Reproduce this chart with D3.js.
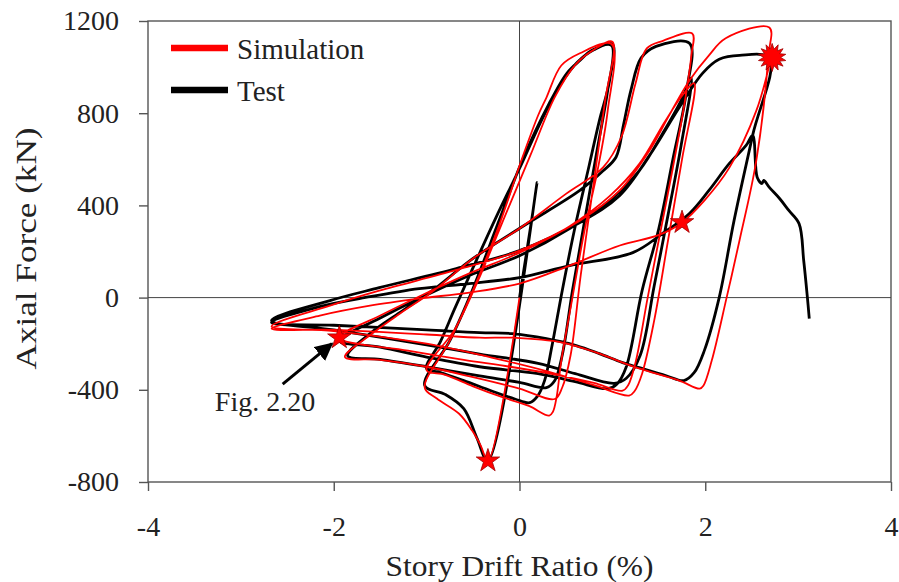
<!DOCTYPE html>
<html>
<head>
<meta charset="utf-8">
<script src="https://cdn.jsdelivr.net/npm/d3@7"></script>
<style>
  body { margin: 0; background: #fff; }
  svg text { font-family: "Times New Roman", "Liberation Serif", Times, serif; fill: #222; }
</style>
</head>
<body>
<div id="chart"></div>
<script>
// axis ticks
const xTicks = [-4, -2, 0, 2, 4];
const yTicks = [-800, -400, 0, 400, 800, 1200];

// test curve, [drift %, axial force kN]
const testCurve = [
  [0, 0], [0.19, 500], [-0.34, -708],
  [-0.46, -608], [-0.60, -482], [-0.80, -420], [-1.02, -382],
  [-0.75, -187], [-0.51, 30], [-0.22, 334], [0.03, 595], [0.32, 842], [0.51, 973], [0.65, 1029], [0.78, 1073], [0.99, 1094],
  [0.97, 942], [0.86, 768], [0.75, 573], [0.59, 291], [0.46, 30], [0.35, -209], [0.27, -360], [0.19, -430], [0.11, -456],
  [-0.05, -440], [-0.3, -405], [-0.6, -360], [-0.85, -325], [-1.0, -308],
  [-0.85, -190], [-0.7, -50], [-0.5, 130], [-0.25, 350], [0.0, 560], [0.25, 780], [0.45, 930], [0.62, 1020], [0.8, 1075], [1.0, 1100],
  [0.95, 900], [0.84, 650], [0.70, 330], [0.57, 30], [0.46, -250], [0.38, -360], [0.29, -391],
  [0.0, -368], [-0.43, -340], [-1.0, -300], [-1.5, -268], [-1.85, -252],
  [-1.61, -156], [-1.29, -65], [-0.94, 30], [-0.5, 170], [0.05, 313], [0.65, 465], [0.9, 550], [1.04, 610], [1.12, 750], [1.2, 900], [1.31, 1040], [1.47, 1090], [1.83, 1103],
  [1.8, 900], [1.65, 597], [1.5, 300], [1.32, 30], [1.15, -300], [1.05, -375], [0.95, -395],
  [0.6, -365], [0.2, -330], [-0.43, -300], [-1.0, -258], [-1.5, -215], [-1.94, -187],
  [-1.51, -91], [-1.08, -4], [-0.54, 96], [0, 182], [0.54, 300], [0.97, 421], [1.29, 551], [1.56, 725], [1.74, 855], [1.85, 951],
  [1.74, 660], [1.6, 360], [1.45, 50], [1.3, -250], [1.15, -350], [1.02, -372],
  [0.6, -330], [0.2, -285], [-0.43, -245], [-1.0, -205], [-2.0, -140], [-2.67, -100],
  [-2.04, -13], [-1.51, 43], [-0.68, 126], [0, 204], [0.65, 326], [1.08, 443], [1.40, 617], [1.72, 825], [1.97, 973], [2.15, 1034], [2.37, 1051], [2.69, 1038],
  [2.51, 704], [2.31, 334], [2.15, 0], [1.99, -230], [1.88, -326], [1.77, -360],
  [1.58, -339], [1.29, -304], [1.11, -282], [0.86, -243], [0.61, -208], [0.29, -178], [-0.08, -156], [-0.43, -152], [-1.0, -140], [-2.0, -120], [-2.67, -108],
  [-2.15, -39], [-1.61, 4], [-1.08, 39], [-0.54, 61], [0, 87], [0.54, 139], [1.22, 195], [1.54, 278], [1.83, 365], [2.04, 465], [2.26, 582], [2.44, 660], [2.51, 704],
  [2.56, 521], [2.61, 495], [2.63, 508], [2.69, 478], [2.80, 430], [2.90, 378], [3.01, 321], [3.06, 161], [3.10, 0], [3.12, -91]
];

// simulation curve
const simCurve = [
  [0, 0], [-0.34, -708],
  [-0.42, -640], [-0.51, -577], [-0.65, -504], [-0.89, -438], [-1.02, -391],
  [-0.75, -187], [-0.48, 52], [-0.22, 313], [0.02, 595], [0.2, 790], [0.29, 868], [0.45, 1007], [0.65, 1060], [0.99, 1100],
  [0.95, 812], [0.84, 551], [0.70, 291], [0.57, 0], [0.45, -274], [0.40, -430], [0.36, -495], [0.32, -512],
  [0.1, -470], [-0.2, -430], [-0.5, -385], [-0.8, -335], [-1.0, -315],
  [-0.7, -140], [-0.45, 70], [-0.15, 360], [0.12, 620], [0.38, 870], [0.6, 1010], [0.8, 1075], [1.0, 1110],
  [0.92, 850], [0.8, 500], [0.66, 100], [0.55, -250], [0.46, -390], [0.38, -440],
  [0, -395], [-0.5, -345], [-1.0, -300], [-1.5, -270], [-1.88, -258],
  [-1.6, -160], [-1.29, -70], [-0.94, 25], [-0.5, 170], [0, 300], [0.5, 450], [0.9, 565], [1.1, 700], [1.25, 930], [1.37, 1081], [1.55, 1115], [1.86, 1146],
  [1.85, 1050], [1.78, 850], [1.65, 560], [1.5, 250], [1.38, 0], [1.25, -280], [1.17, -380], [1.11, -404],
  [0.8, -370], [0.4, -335], [-0.1, -300], [-0.6, -270], [-1.2, -230], [-1.94, -174],
  [-1.51, -80], [-1.08, 5], [-0.54, 105], [0, 195], [0.54, 310], [0.97, 440], [1.29, 580], [1.56, 760], [1.74, 870], [1.88, 930],
  [1.75, 600], [1.6, 250], [1.45, -100], [1.32, -330], [1.24, -405], [1.18, -425],
  [0.8, -380], [0.3, -320], [-0.3, -260], [-1.0, -200], [-2.0, -145], [-2.67, -125],
  [-2.04, -35], [-1.51, 30], [-0.68, 120], [0, 204], [0.65, 334], [1.08, 465], [1.4, 638], [1.61, 790], [1.83, 942], [2.04, 1051], [2.22, 1125], [2.69, 1172],
  [2.68, 1050], [2.55, 595], [2.37, 250], [2.23, 0], [2.07, -273], [1.98, -382], [1.94, -395],
  [1.72, -360], [1.26, -304], [0.83, -239], [0.46, -195], [-0.08, -174], [-0.43, -174], [-1.0, -160], [-2.0, -140], [-2.67, -135],
  [-2.15, -78], [-1.61, -35], [-1.08, -4], [-0.54, 22], [0, 61], [0.54, 139], [1.08, 226], [1.51, 273], [1.75, 326], [1.99, 421], [2.26, 564], [2.55, 811], [2.71, 1042]
];

// marked points on the simulation
const starPoints = [[-0.34, -708], [-1.94, -174], [1.75, 326]];
const burstPoint = [2.72, 1042];

// annotation
const noteText = 'Fig. 2.20';
const noteAnchor = [-2.74, -491];
const arrowTail = [-2.55, -375];
const arrowTip = [-2.02, -200];

const legendItems = [
  { name: 'Simulation', color: '#ff0000' },
  { name: 'Test', color: '#000000' }
];

const width = 899, height = 582;
const serif = '"Times New Roman", "Liberation Serif", Times, serif';

const svg = d3.select('#chart').append('svg')
  .attr('width', width)
  .attr('height', height);

const x = d3.scaleLinear().domain([-4, 4]).range([148, 891]);
const y = d3.scaleLinear().domain([-800, 1200]).range([482, 21]);

// frame
svg.append('rect')
  .attr('x', x(-4)).attr('y', y(1200))
  .attr('width', x(4) - x(-4)).attr('height', y(-800) - y(1200))
  .attr('fill', 'none').attr('stroke', '#555').attr('stroke-width', 1.4);

// zero lines
svg.append('line')
  .attr('x1', x(0)).attr('x2', x(0)).attr('y1', y(1200)).attr('y2', y(-800))
  .attr('stroke', '#444').attr('stroke-width', 1);
svg.append('line')
  .attr('x1', x(-4)).attr('x2', x(4)).attr('y1', y(0)).attr('y2', y(0))
  .attr('stroke', '#444').attr('stroke-width', 1);

// axes, plain hyphen minus and no thousands separator
const fmt = d => String(d);
const xAxis = d3.axisBottom(x).tickValues(xTicks).tickSize(9).tickPadding(25).tickFormat(fmt);
const yAxis = d3.axisLeft(y).tickValues(yTicks).tickSize(9).tickPadding(20).tickFormat(fmt);

const xg = svg.append('g').attr('transform', `translate(0, ${y(-800)})`).call(xAxis);
const yg = svg.append('g').attr('transform', `translate(${x(-4)}, 0)`).call(yAxis);

[xg, yg].forEach(g => {
  g.select('.domain').remove();
  g.selectAll('line').attr('stroke', '#555').attr('stroke-width', 1.4);
  g.selectAll('text')
    .attr('font-size', 28)
    .attr('font-family', serif)
    .attr('fill', '#222');
});

// axis titles
svg.append('text')
  .attr('x', x(0)).attr('y', 576)
  .attr('text-anchor', 'middle')
  .attr('font-size', 29)
  .attr('textLength', 268).attr('lengthAdjust', 'spacingAndGlyphs')
  .text('Story Drift Ratio (%)');

svg.append('text')
  .attr('transform', `translate(36, ${(y(1200) + y(-800)) / 2 - 3}) rotate(-90)`)
  .attr('text-anchor', 'middle')
  .attr('font-size', 29)
  .attr('textLength', 242).attr('lengthAdjust', 'spacingAndGlyphs')
  .text('Axial Force (kN)');

// curves
const line = d3.line()
  .x(d => x(d[0]))
  .y(d => y(d[1]))
  .curve(d3.curveCatmullRom.alpha(0.5));

svg.append('path')
  .datum(testCurve)
  .attr('d', line)
  .attr('fill', 'none')
  .attr('stroke', '#000')
  .attr('stroke-width', 2.8)
  .attr('stroke-linejoin', 'round');

svg.append('path')
  .datum(simCurve)
  .attr('d', line)
  .attr('fill', 'none')
  .attr('stroke', '#ff0000')
  .attr('stroke-width', 1.8)
  .attr('stroke-linejoin', 'round');

// star markers
svg.selectAll('.star')
  .data(starPoints)
  .enter()
  .append('path')
  .attr('class', 'star')
  .attr('d', d3.symbol(d3.symbolStar, 170))
  .attr('transform', d => `translate(${x(d[0])}, ${y(d[1])})`)
  .attr('fill', '#ff0000')
  .attr('stroke', '#a00000')
  .attr('stroke-width', 0.8);

// burst marker
const burstPts = d3.range(28).map(i => [i * Math.PI / 14, i % 2 === 0 ? 14 : 8.5]);
svg.append('path')
  .attr('d', d3.lineRadial().curve(d3.curveLinearClosed)(burstPts))
  .attr('transform', `translate(${x(burstPoint[0])}, ${y(burstPoint[1])})`)
  .attr('fill', '#ff0000')
  .attr('stroke', '#a00000')
  .attr('stroke-width', 0.8);

// annotation arrow
svg.append('defs').append('marker')
  .attr('id', 'head')
  .attr('viewBox', '0 0 10 10')
  .attr('refX', 9).attr('refY', 5)
  .attr('markerWidth', 6).attr('markerHeight', 6)
  .attr('orient', 'auto')
  .append('path')
  .attr('d', 'M0,0 L10,5 L0,10 z')
  .attr('fill', '#000');

svg.append('line')
  .attr('x1', x(arrowTail[0])).attr('y1', y(arrowTail[1]))
  .attr('x2', x(arrowTip[0])).attr('y2', y(arrowTip[1]))
  .attr('stroke', '#000').attr('stroke-width', 3)
  .attr('marker-end', 'url(#head)');

svg.append('text')
  .attr('x', x(noteAnchor[0])).attr('y', y(noteAnchor[1]))
  .attr('text-anchor', 'middle')
  .attr('font-size', 28)
  .attr('fill', '#111')
  .text(noteText);

// legend
const legend = svg.append('g').attr('transform', 'translate(171, 48)');
legendItems.forEach((item, i) => {
  const g = legend.append('g').attr('transform', `translate(0, ${i * 42})`);
  g.append('line')
    .attr('x1', 0).attr('x2', 57)
    .attr('stroke', item.color).attr('stroke-width', 6.5);
  g.append('text')
    .attr('x', 66).attr('y', 11)
    .attr('font-size', 29)
    .attr('fill', '#111')
    .text(item.name);
});
</script>
</body>
</html>
